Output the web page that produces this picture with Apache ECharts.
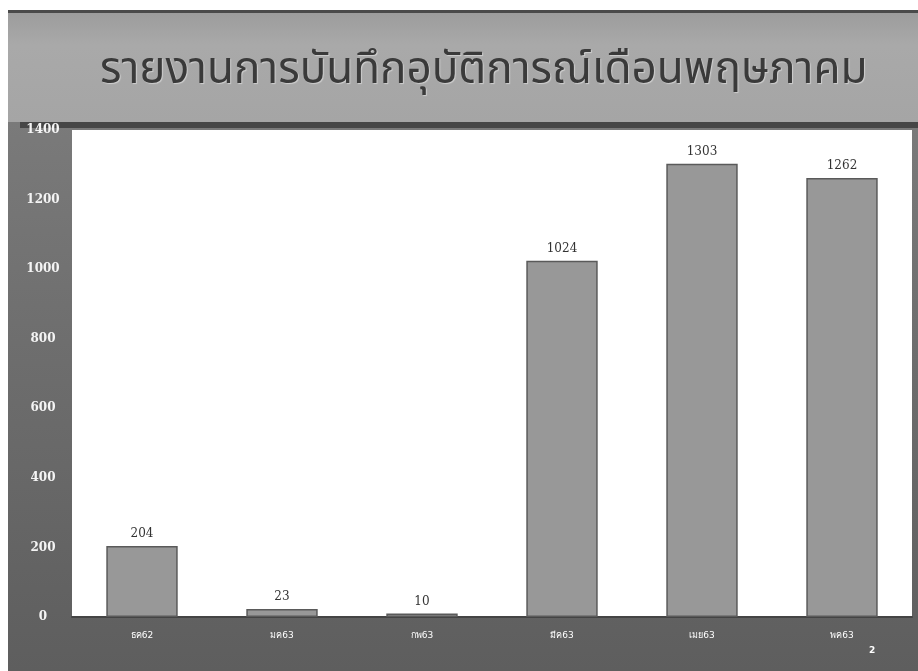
<!DOCTYPE html>
<html>
<head>
<meta charset="utf-8">
<script src="https://cdn.jsdelivr.net/npm/echarts@6/dist/echarts.min.js"></script>
<style>
html,body{margin:0;padding:0;background:#fff;}
#main{width:918px;height:671px;}
</style>
</head>
<body>
<div id="main"></div>
<script>
const titleText = 'รายงานการบันทึกอุบัติการณ์เดือนพฤษภาคม';
const categories = ['ธค62', 'มค63', 'กพ63', 'มีค63', 'เมย63', 'พค63'];
const values = [204, 23, 10, 1024, 1303, 1262];
const yTicks = [0, 200, 400, 600, 800, 1000, 1200, 1400];
const pageNumber = '2';

const chart = echarts.init(document.getElementById('main'));
chart.setOption({
  backgroundColor: '#ffffff',
  animation: false,
  graphic: [
    {
      type: 'rect', z: -10, silent: true,
      shape: { x: 8, y: 12, width: 910, height: 659 },
      style: {
        fill: new echarts.graphic.LinearGradient(0, 0, 0, 1, [
          { offset: 0, color: '#808080' },
          { offset: 0.5, color: '#6e6e6e' },
          { offset: 1, color: '#5e5e5e' }
        ])
      }
    },
    {
      type: 'rect', z: -9, silent: true,
      shape: { x: 8, y: 12, width: 910, height: 110 },
      style: {
        fill: new echarts.graphic.LinearGradient(0, 0, 0, 1, [
          { offset: 0, color: '#9c9c9c' },
          { offset: 0.3, color: '#a9a9a9' },
          { offset: 1, color: '#a5a5a5' }
        ])
      }
    },
    {
      type: 'rect', z: -9, silent: true,
      shape: { x: 8, y: 10, width: 910, height: 3 },
      style: { fill: '#4a4a4a' }
    },
    {
      type: 'rect', z: -8, silent: true,
      shape: { x: 20, y: 122, width: 898, height: 6 },
      style: { fill: '#464646' }
    },
    {
      type: 'text', z: 5, silent: true,
      left: 100, top: 52,
      style: {
        text: titleText,
        fill: '#3a3a3a',
        font: '44px "Noto Sans Thai", "Noto Sans", "DejaVu Sans", sans-serif',
        textShadowColor: 'rgba(255,255,255,0.45)', textShadowBlur: 1, textShadowOffsetX: 1, textShadowOffsetY: 1
      }
    },
    {
      type: 'text', z: 5, silent: true,
      left: 869, top: 646,
      style: { text: pageNumber, fill: '#ffffff', font: 'bold 9px "DejaVu Sans", sans-serif' }
    }
  ],
  grid: {
    left: 72, right: 6, top: 130, bottom: 54,
    show: true, backgroundColor: '#ffffff', borderWidth: 0
  },
  xAxis: {
    type: 'category',
    data: categories,
    axisLine: { show: true, lineStyle: { color: '#444', width: 2 } },
    axisTick: { show: false },
    axisLabel: { color: '#ffffff', fontSize: 9, margin: 14, fontFamily: '"DejaVu Sans", sans-serif' }
  },
  yAxis: {
    type: 'value',
    min: 0, max: 1400, interval: 200,
    axisLine: { show: false },
    axisTick: { show: false },
    splitLine: { show: false },
    axisLabel: {
      color: '#f4f4f4', fontSize: 12, fontWeight: 'bold', align: 'center', margin: 29,
      fontFamily: '"DejaVu Serif", "Liberation Serif", serif',
      formatter: v => yTicks.includes(v) ? String(v) : ''
    }
  },
  series: [{
    type: 'bar',
    data: values,
    barWidth: '51%',
    itemStyle: { color: '#989898', borderColor: '#5a5a5a', borderWidth: 1.5 },
    label: {
      show: true, position: 'top', distance: 6,
      color: '#333', fontSize: 12,
      fontFamily: '"DejaVu Serif", "Liberation Serif", serif'
    }
  }]
});
</script>
</body>
</html>
